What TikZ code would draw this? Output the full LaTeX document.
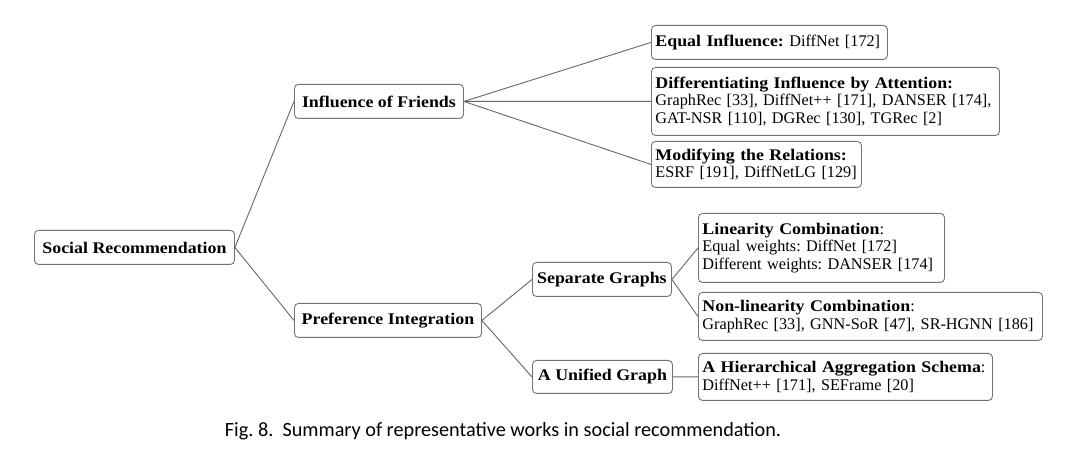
\documentclass[tikz,border=0pt]{standalone}
\usepackage{fontspec}
\setmainfont[BoldFeatures={FakeStretch=1.1}]{Liberation Serif}
\newfontfamily\capfont{Carlito}
\begin{document}
\frenchspacing
\begin{tikzpicture}[x=1bp,y=-1bp,
  box/.style={draw=black!55, line width=0.9bp, rounded corners=4bp, inner xsep=4bp, inner ysep=2bp,
    font=\fontsize{16.3}{17.8}\selectfont, anchor=north west},
  lbox/.style={box, align=left},
  conn/.style={draw=black!60, line width=0.9bp}]
\useasboundingbox (0,0) rectangle (1080,457);
% level 0
\node[box, minimum width=200bp, minimum height=34bp] (sr) at (34,230) {\textbf{Social Recommendation}};
% level 1
\node[box, minimum width=169bp, minimum height=34bp] (if) at (294,84) {\textbf{Influence of Friends}};
\node[box, minimum width=187bp, minimum height=34bp] (pi) at (294,303) {\textbf{Preference Integration}};
% level 2
\node[box, minimum width=139bp, minimum height=34bp] (sg) at (532,262) {\textbf{Separate Graphs}};
\node[box, minimum width=140bp, minimum height=33bp] (ug) at (532,360) {\textbf{A Unified Graph}};
% leaves
\node[lbox, text width=228bp, minimum height=34bp] (eq) at (651,25) {\textbf{Equal Influence:} DiffNet [172]};
\node[lbox, text width=340bp, minimum height=68bp] (di) at (651,67) {\textbf{Differentiating Influence by Attention:}\\GraphRec [33], DiffNet++ [171], DANSER [174],\\GAT-NSR [110], DGRec [130], TGRec [2]};
\node[lbox, text width=202bp, minimum height=46bp] (mo) at (651,141) {\textbf{Modifying the Relations:}\\ESRF [191], DiffNetLG [129]};
\node[lbox, text width=238bp, minimum height=69bp] (li) at (698,213) {\textbf{Linearity Combination}:\\Equal weights: DiffNet [172]\\Different weights: DANSER [174]};
\node[lbox, text width=336bp, minimum height=48bp] (nl) at (698,292) {\textbf{Non-linearity Combination}:\\GraphRec [33], GNN-SoR [47], SR-HGNN [186]};
\node[lbox, text width=286bp, minimum height=47bp] (hi) at (698,353) {\textbf{A Hierarchical Aggregation Schema}:\\DiffNet++ [171], SEFrame [20]};
% connectors
\draw[conn] (sr.east) -- (if.west);
\draw[conn] (sr.east) -- (pi.west);
\draw[conn] (if.east) -- (eq.west);
\draw[conn] (if.east) -- (di.west);
\draw[conn] (if.east) -- (mo.west);
\draw[conn] (pi.east) -- (sg.west);
\draw[conn] (pi.east) -- (ug.west);
\draw[conn] (sg.east) -- (li.west);
\draw[conn] (sg.east) -- (nl.west);
\draw[conn] (ug.east) -- (hi.west);
% caption
\node[font=\capfont\fontsize{20.3}{22}\selectfont, anchor=base] (cap) at (503,436) {Fig. 8.\ \ Summary of representative works in social recommendation.};
\end{tikzpicture}
\end{document}
